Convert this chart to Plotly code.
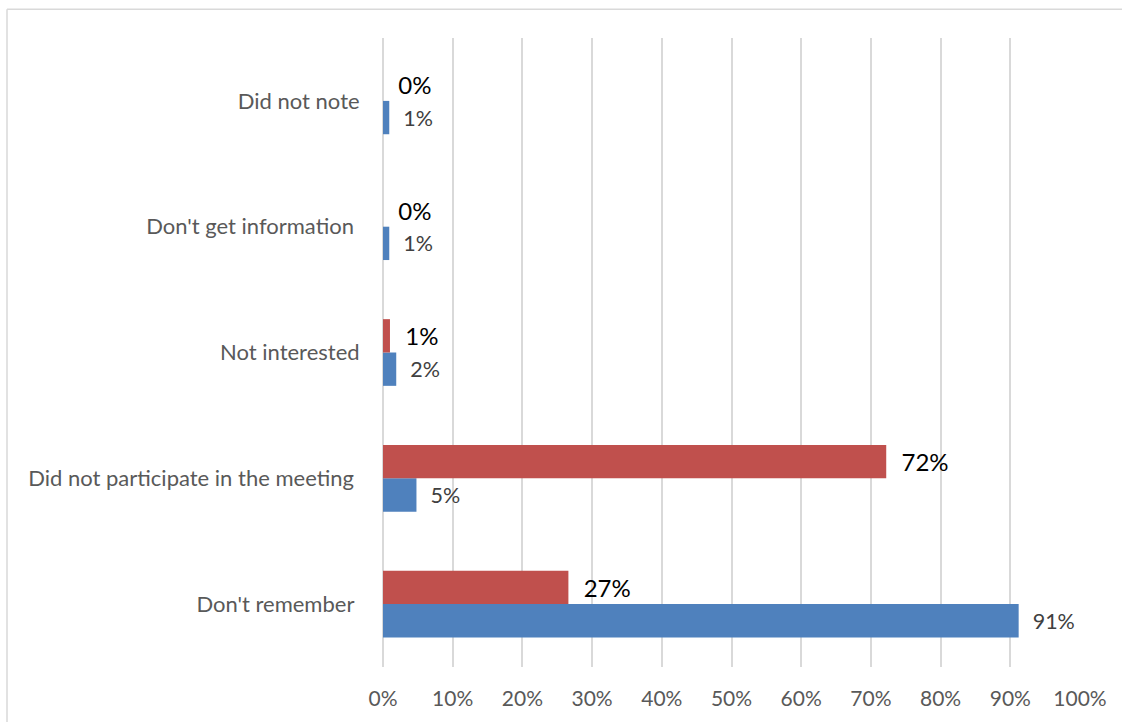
import plotly.graph_objects as go

# Reasons, listed bottom-to-top as they appear on the y axis
categories = [
    "Don't remember\u00a0",
    "Did not participate in the meeting\u00a0",
    "Not interested",
    "Don't get information\u00a0",
    "Did not note",
]
blue_values = [0.912, 0.048, 0.019, 0.009, 0.009]
red_values = [0.266, 0.722, 0.010, 0.0, 0.0]
x_ticks = [0, 0.1, 0.2, 0.3, 0.4, 0.5, 0.6, 0.7, 0.8, 0.9, 1.0]
x_tick_labels = ["0%", "10%", "20%", "30%", "40%", "50%", "60%", "70%", "80%", "90%", "100%"]

BLUE = "#4F81BD"
RED = "#C0504D"
GRID = "#D9D9D9"
FONT = "Lato"
PAD = "\u00a0\u00a0"

fig = go.Figure()
fig.add_trace(go.Bar(
    y=categories, x=blue_values, orientation="h",
    marker=dict(color=BLUE, line=dict(width=0)),
    texttemplate=PAD + "%{x:.0%}", textposition="outside",
    textfont=dict(family=FONT, size=21.5, color="#404040"),
    constraintext="none", cliponaxis=False, showlegend=False,
))
fig.add_trace(go.Bar(
    y=categories, x=red_values, orientation="h",
    marker=dict(color=RED, line=dict(width=0)),
    texttemplate=PAD + "%{x:.0%}", textposition="outside",
    textfont=dict(family=FONT, size=24, color="#000000"),
    constraintext="none", cliponaxis=False, showlegend=False,
))

L, R, T, B = 383, 42, 38, 49
W, H = 1122, 722
pw, ph = W - L - R, H - T - B

# Chart frame: only its top and left edges fall inside the page
frame_left = (7 - L) / pw
frame_top = 1 + (T - 9) / ph
frame_right = (W + 20 - L) / pw
frame_bottom = -(B + 20) / ph

fig.update_layout(
    width=W, height=H,
    margin=dict(l=L, r=R, t=T, b=B),
    barmode="group", bargap=0.47, bargroupgap=0,
    plot_bgcolor="white", paper_bgcolor="white",
    font=dict(family=FONT, color="#595959"),
    xaxis=dict(
        range=[0, 1.0], tickvals=x_ticks, ticktext=x_tick_labels,
        showgrid=True, gridcolor=GRID, gridwidth=1.5,
        zeroline=True, zerolinecolor=GRID, zerolinewidth=1.5,
        showline=False,
        ticks="outside", ticklen=13, tickcolor="rgba(0,0,0,0)",
        tickfont=dict(family=FONT, size=21, color="#595959"),
    ),
    yaxis=dict(
        showgrid=False, zeroline=False, showline=False,
        ticks="outside", ticklen=18, tickcolor="rgba(0,0,0,0)",
        tickfont=dict(family=FONT, size=22, color="#595959"),
    ),
    shapes=[
        dict(type="line", xref="paper", yref="paper",
             x0=frame_left, x1=frame_right, y0=frame_top, y1=frame_top,
             line=dict(color=GRID, width=1.5), layer="below"),
        dict(type="line", xref="paper", yref="paper",
             x0=frame_left, x1=frame_left, y0=frame_bottom, y1=frame_top,
             line=dict(color=GRID, width=1.5), layer="below"),
    ],
)

fig.write_html("out.html")
